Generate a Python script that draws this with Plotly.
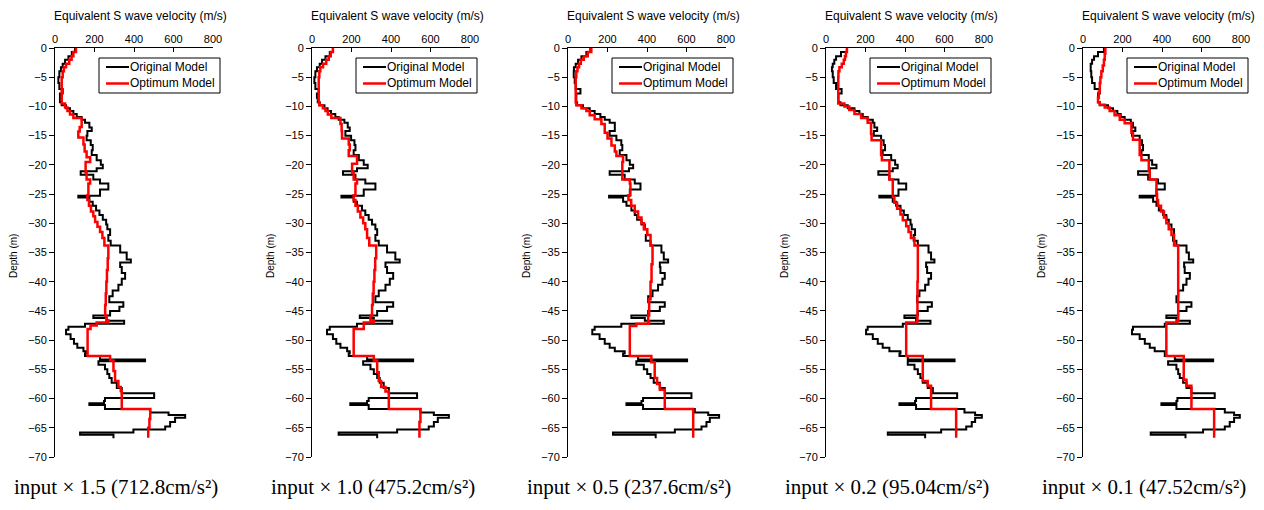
import plotly.graph_objects as go

# ---------------------------------------------------------------------------
# Original (measured) S-wave profile: layer tops in metres, last entry = bottom
# ---------------------------------------------------------------------------
depth_orig = [
    0.0, 0.7, 1.4, 2.0, 2.7, 3.3, 4.0, 5.0, 6.0, 7.0,
    7.8, 8.5, 9.3, 9.8, 10.3, 10.8, 11.3, 11.8, 12.3, 12.8,
    13.6, 14.2, 15.0, 15.8, 16.6, 17.5, 18.3, 19.2, 20.0, 20.6,
    21.1, 21.7, 22.5, 23.2, 24.2, 25.3, 25.6, 26.3, 27.0, 27.8,
    28.6, 29.4, 30.2, 31.0, 32.0, 33.0, 33.8, 35.0, 36.2, 36.7,
    37.5, 38.5, 39.5, 40.5, 41.5, 42.5, 43.5, 44.3, 45.0, 45.8,
    46.2, 46.7, 47.2, 47.7, 48.2, 49.0, 49.8, 50.6, 51.3, 51.9,
    52.3, 52.7, 53.3, 53.6, 54.2, 55.0, 55.8, 56.5, 57.3, 58.2,
    59.1, 59.9, 60.4, 60.8, 61.1, 61.8, 62.4, 62.8, 63.3, 64.0,
    64.8, 65.3, 65.8, 66.2, 66.8,
]

# Equivalent Vs of the original model (m/s), one value per layer
orig_x15 = [
    101, 85, 68, 51, 39, 30, 22, 17, 22, 39,
    25, 25, 34, 56, 76, 93, 110, 135, 152, 174,
    186, 164, 160, 181, 191, 186, 211, 232, 242, 211,
    130, 194, 228, 270, 228, 118, 174, 191, 208, 225,
    242, 259, 265, 279, 270, 282, 330, 363, 384, 330,
    338, 355, 338, 321, 292, 275, 346, 326, 279, 194,
    262, 350, 152, 68, 56, 79, 96, 113, 144, 157,
    152, 228, 456, 220, 253, 265, 275, 287, 313, 338,
    502, 253, 248, 174, 253, 482, 575, 659, 608, 583,
    558, 397, 127, 296,
]
orig_x10 = [
    106, 90, 68, 51, 39, 25, 17, 12, 17, 34,
    25, 29, 39, 63, 79, 96, 118, 135, 164, 181,
    191, 169, 198, 215, 220, 211, 237, 262, 282, 228,
    157, 220, 270, 321, 262, 149, 211, 228, 253, 270,
    287, 304, 321, 330, 321, 338, 380, 422, 444, 372,
    380, 411, 394, 372, 338, 321, 411, 380, 330, 242,
    313, 406, 228, 90, 76, 106, 123, 144, 178, 191,
    186, 279, 512, 259, 296, 313, 330, 343, 363, 389,
    532, 287, 279, 194, 287, 549, 617, 693, 637, 617,
    591, 431, 135, 330,
]
orig_x05 = [
    113, 93, 68, 51, 39, 30, 29, 34, 39, 63,
    42, 42, 46, 76, 110, 135, 164, 186, 211, 237,
    237, 211, 245, 270, 275, 262, 296, 313, 330, 309,
    211, 287, 338, 367, 313, 208, 279, 296, 321, 338,
    350, 372, 389, 401, 394, 418, 473, 485, 507, 465,
    468, 490, 478, 456, 428, 406, 490, 465, 406, 321,
    389, 485, 270, 135, 123, 160, 186, 211, 237, 287,
    279, 355, 603, 346, 384, 401, 418, 434, 465, 490,
    625, 380, 372, 296, 380, 642, 710, 765, 718, 701,
    676, 541, 228, 444,
]
orig_x02 = [
    106, 76, 51, 42, 34, 30, 34, 39, 51, 79,
    63, 63, 73, 110, 144, 169, 186, 211, 237, 245,
    259, 242, 279, 292, 299, 287, 330, 350, 363, 338,
    265, 321, 367, 406, 367, 270, 338, 355, 377, 394,
    414, 428, 434, 451, 444, 465, 519, 532, 549, 507,
    512, 532, 519, 502, 473, 461, 536, 515, 465, 397,
    456, 529, 389, 211, 203, 237, 262, 287, 321, 377,
    372, 414, 651, 414, 448, 465, 478, 490, 515, 541,
    664, 456, 451, 372, 456, 701, 755, 789, 755, 738,
    710, 583, 313, 502,
]
orig_x01 = [
    106, 76, 56, 46, 39, 39, 42, 46, 59, 85,
    76, 76, 85, 127, 152, 174, 191, 211, 242, 253,
    265, 248, 287, 299, 304, 296, 333, 350, 372, 338,
    279, 330, 380, 414, 372, 287, 355, 372, 384, 406,
    422, 434, 448, 461, 456, 473, 524, 536, 558, 512,
    515, 541, 524, 507, 482, 473, 549, 524, 482, 422,
    473, 541, 414, 253, 248, 287, 313, 338, 363, 417,
    414, 465, 659, 431, 473, 482, 490, 507, 524, 549,
    667, 478, 473, 397, 473, 718, 765, 794, 765, 743,
    718, 608, 343, 519,
]

# ---------------------------------------------------------------------------
# Optimum (identified) model: layer tops in metres (last = bottom) and Vs
# ---------------------------------------------------------------------------
opt_depth_x15 = [
    0.0, 0.7, 1.4, 2.0, 2.7, 3.3, 4.0, 5.0, 9.5, 10.2,
    10.8, 11.4, 12.0, 13.5, 14.3, 15.3, 16.5, 17.7, 18.7, 19.5,
    21.3, 22.5, 23.2, 25.2, 26.0, 27.0, 28.0, 28.8, 29.8, 30.6,
    31.5, 32.5, 33.8, 36.0, 38.0, 40.0, 42.0, 44.0, 45.8, 46.6,
    47.0, 47.5, 48.1, 52.7, 53.5, 55.3, 57.0, 58.0, 58.7, 61.8,
    63.5, 65.0, 66.7,
]
opt_x15 = [
    106, 93, 84, 72, 56, 45, 39, 34, 51, 63,
    76, 93, 135, 125, 118, 144, 150, 160, 178, 155,
    160, 178, 169, 164, 172, 182, 194, 203, 215, 228,
    240, 250, 270, 267, 263, 260, 257, 254, 260, 270,
    211, 180, 165, 279, 296, 304, 321, 333, 338, 482,
    478, 472,
]

opt_depth_x10 = [
    0.0, 0.7, 1.4, 2.0, 2.7, 3.3, 4.0, 5.0, 9.3, 9.8,
    10.3, 10.8, 11.4, 12.0, 13.0, 14.2, 15.5, 16.5, 17.5, 18.5,
    19.8, 21.3, 22.5, 23.2, 25.2, 26.0, 27.0, 28.0, 29.0, 30.0,
    31.0, 32.5, 33.8, 36.0, 38.0, 40.0, 42.0, 44.0, 45.8, 46.6,
    47.0, 48.1, 52.7, 53.5, 55.5, 57.0, 58.0, 58.8, 61.8, 64.0,
    66.7,
]
opt_x10 = [
    106, 95, 85, 72, 56, 42, 37, 34, 37, 55,
    68, 80, 98, 144, 150, 152, 186, 191, 186, 228,
    203, 211, 228, 220, 211, 220, 232, 245, 259, 270,
    279, 290, 325, 320, 316, 312, 308, 304, 296, 313,
    262, 211, 313, 330, 338, 350, 372, 389, 549, 544,
]

opt_depth_x05 = [
    0.0, 0.7, 1.4, 2.0, 2.7, 3.3, 4.0, 5.0, 9.3, 9.8,
    10.3, 10.8, 11.5, 12.2, 13.0, 14.5, 15.5, 16.7, 17.7, 18.5,
    19.5, 22.5, 23.2, 25.2, 26.0, 27.0, 28.0, 29.0, 30.0, 31.0,
    32.0, 33.8, 37.0, 40.0, 43.0, 45.8, 46.8, 47.2, 47.6, 52.7,
    53.8, 56.5, 57.5, 58.5, 61.8, 66.7,
]
opt_x05 = [
    118, 100, 80, 65, 56, 48, 42, 39, 42, 68,
    93, 110, 135, 169, 186, 200, 220, 237, 245, 279,
    275, 313, 316, 306, 320, 338, 355, 372, 384, 401,
    418, 428, 423, 418, 411, 406, 411, 346, 313, 422,
    439, 451, 465, 490, 634,
]

opt_depth_x02 = [
    0.0, 0.7, 1.4, 2.0, 2.7, 3.3, 4.0, 5.0, 9.5, 10.0,
    10.6, 11.3, 12.0, 12.8, 14.7, 15.8, 18.3, 19.2, 22.5, 25.5,
    26.5, 27.5, 28.5, 29.5, 30.5, 31.5, 32.5, 33.8, 40.0, 46.6,
    47.0, 52.7, 57.0, 57.8, 61.8, 66.7,
]
opt_x02 = [
    106, 101, 96, 90, 80, 68, 63, 62, 93, 118,
    144, 178, 211, 228, 231, 279, 283, 321, 338, 346,
    360, 377, 389, 406, 418, 430, 448, 465, 463, 461,
    406, 490, 515, 532, 659,
]

opt_depth_x01 = [
    0.0, 1.0, 2.0, 3.0, 4.0, 5.0, 6.0, 7.5, 8.5, 9.3,
    9.7, 10.2, 10.8, 11.5, 12.3, 12.9, 14.5, 15.7, 18.3, 19.2,
    21.0, 22.5, 25.0, 26.0, 27.0, 28.0, 29.0, 30.0, 31.0, 32.0,
    33.8, 46.6, 47.0, 52.7, 56.8, 57.8, 61.8, 66.7,
]
opt_x01 = [
    113, 110, 106, 100, 93, 88, 85, 80, 76, 85,
    110, 135, 160, 186, 211, 245, 253, 287, 296, 333,
    338, 372, 375, 380, 395, 410, 422, 434, 448, 461,
    482, 478, 422, 510, 524, 549, 664,
]

captions = [
    "input \u00d7 1.5 (712.8cm/s\u00b2)",
    "input \u00d7 1.0 (475.2cm/s\u00b2)",
    "input \u00d7 0.5 (237.6cm/s\u00b2)",
    "input \u00d7 0.2 (95.04cm/s\u00b2)",
    "input \u00d7 0.1 (47.52cm/s\u00b2)",
]
series_names = ["Original Model", "Optimum Model"]
series_colors = ["#000000", "#ff0000"]
series_widths = [2, 2.5]
x_title = "Equivalent S wave velocity (m/s)"
y_title = "Depth (m)"
y_tick_vals = [0, -5, -10, -15, -20, -25, -30, -35, -40, -45, -50, -55, -60, -65, -70]
x_tick_vals = [0, 200, 400, 600, 800]

panels = [
    (orig_x15, opt_depth_x15, opt_x15),
    (orig_x10, opt_depth_x10, opt_x10),
    (orig_x05, opt_depth_x05, opt_x05),
    (orig_x02, opt_depth_x02, opt_x02),
    (orig_x01, opt_depth_x01, opt_x01),
]

# ---------------------------------------------------------------------------
# Page geometry (pixels)
# ---------------------------------------------------------------------------
W, H = 1264, 510
LEFTS = [55, 312, 568, 826, 1083]
PLOT_W = 158
TOP, BOTTOM = 48, 457
SANS = "Liberation Sans, Arial, sans-serif"
SERIF = "Liberation Serif, Times New Roman, serif"


def fx(px):
    return px / W


def fy(px):
    return 1 - px / H


def staircase(tops, values):
    """Velocity/depth pairs for a layered profile drawn with 'vh' steps."""
    assert len(tops) == len(values) + 1
    return list(values) + [values[-1]], [-d for d in tops]


fig = go.Figure()
annotations = []
shapes = []
layout = {}

for i, (ov, od, opv) in enumerate(panels):
    n = i + 1
    sfx = "" if n == 1 else str(n)
    x0 = LEFTS[i]

    for (tops, vals), name, col, lw in zip(
        [(depth_orig, ov), (od, opv)], series_names, series_colors, series_widths
    ):
        xs, ys = staircase(tops, vals)
        fig.add_trace(go.Scatter(
            x=xs, y=ys, mode="lines", name=name, showlegend=False,
            line=dict(color=col, width=lw, shape="vh"),
            xaxis="x" + sfx, yaxis="y" + sfx,
        ))

    layout["xaxis" + sfx] = dict(
        domain=[fx(x0), fx(x0 + PLOT_W)], anchor="y" + sfx, side="top",
        range=[0, 800], tickvals=x_tick_vals, ticks="inside", ticklen=4,
        tickcolor="black", showline=True, linecolor="black", linewidth=1,
        showgrid=False, zeroline=False, fixedrange=True, automargin=False,
        tickfont=dict(family=SANS, size=11, color="black"),
    )
    layout["yaxis" + sfx] = dict(
        domain=[fy(BOTTOM), fy(TOP)], anchor="x" + sfx,
        range=[-70, 0], tickvals=y_tick_vals, ticks="outside", ticklen=5,
        tickcolor="black", showline=True, linecolor="black", linewidth=1,
        showgrid=False, zeroline=False, fixedrange=True, automargin=False,
        tickfont=dict(family=SANS, size=11, color="black"),
    )

    # legend box with line samples
    shapes.append(dict(
        type="rect", xref="paper", yref="paper", layer="above",
        x0=fx(x0 + 44), x1=fx(x0 + 165), y0=fy(93), y1=fy(58),
        line=dict(color="black", width=1), fillcolor="white",
    ))
    for k, (name, col, lw) in enumerate(zip(series_names, series_colors, series_widths)):
        ly = 67 + 16.5 * k
        shapes.append(dict(
            type="line", xref="paper", yref="paper", layer="above",
            x0=fx(x0 + 51), x1=fx(x0 + 74), y0=fy(ly), y1=fy(ly),
            line=dict(color=col, width=lw),
        ))
        annotations.append(dict(
            text=name, x=fx(x0 + 73), y=fy(ly), xref="paper", yref="paper",
            showarrow=False, xanchor="left", yanchor="middle",
            font=dict(family=SANS, size=12, color="black"),
        ))

    annotations.append(dict(
        text=x_title, x=fx(x0 + 85), y=fy(16), xref="paper", yref="paper",
        showarrow=False, xanchor="center", yanchor="middle",
        font=dict(family=SANS, size=12, color="black"),
    ))
    annotations.append(dict(
        text=y_title, x=fx(x0 - 42), y=fy(256), xref="paper", yref="paper",
        showarrow=False, xanchor="center", yanchor="middle", textangle=-90,
        font=dict(family=SANS, size=10, color="black"),
    ))
    annotations.append(dict(
        text=captions[i], x=fx(x0 + 61), y=fy(487), xref="paper", yref="paper",
        showarrow=False, xanchor="center", yanchor="middle",
        font=dict(family=SERIF, size=21, color="black"),
    ))

fig.update_layout(
    width=W, height=H, margin=dict(l=0, r=0, t=0, b=0),
    paper_bgcolor="white", plot_bgcolor="white",
    showlegend=False, annotations=annotations, shapes=shapes, **layout,
)

fig.write_html(
    "out.html",
    config={"displayModeBar": False},
    post_script="document.body.style.margin='0';",
)
